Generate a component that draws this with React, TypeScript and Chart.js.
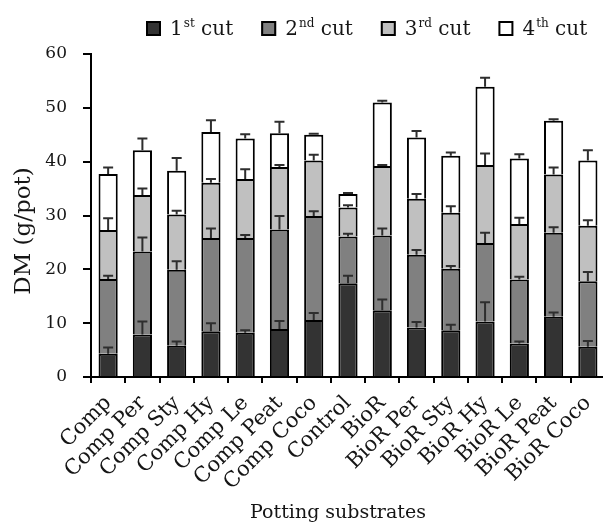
import React, { useEffect, useRef } from "react";
import { Chart, registerables } from "chart.js";

Chart.register(...registerables);

const categories = [
  "Comp", "Comp Per", "Comp Sty", "Comp Hy", "Comp Le", "Comp Peat", "Comp Coco",
  "Control", "BioR", "BioR Per", "BioR Sty", "BioR Hy", "BioR Le", "BioR Peat", "BioR Coco",
];

const cutNumbers = ["1", "2", "3", "4"];
const cutSuffixes = ["st", "nd", "rd", "th"];
const cutWord = " cut";

const cut1 = [4.3, 7.9, 5.8, 8.5, 8.2, 8.9, 10.6, 17.4, 12.4, 9.2, 8.7, 10.3, 6.2, 11.2, 5.6];
const cut2 = [13.9, 15.4, 14.1, 17.3, 17.6, 18.5, 19.3, 8.7, 13.9, 13.5, 11.4, 14.6, 11.9, 15.6, 12.2];
const cut3 = [9.1, 10.5, 10.3, 10.3, 11.0, 11.6, 10.3, 5.4, 12.9, 10.4, 10.4, 14.5, 10.3, 10.8, 10.3];
const cut4 = [10.4, 8.3, 8.1, 9.4, 7.5, 6.3, 4.8, 2.5, 11.8, 11.4, 10.6, 14.5, 12.2, 10.0, 12.1];

const err1 = [1.2, 2.4, 0.8, 1.5, 0.5, 1.5, 1.3, 1.4, 2.0, 1.0, 1.0, 3.6, 0.4, 0.8, 1.1];
const err2 = [0.6, 2.6, 1.6, 1.8, 0.6, 2.5, 0.9, 0.5, 1.3, 0.9, 0.5, 1.9, 0.5, 1.0, 1.7];
const err3 = [2.2, 1.2, 0.7, 0.7, 1.8, 0.4, 1.1, 0.4, 0.2, 0.9, 1.2, 2.1, 1.2, 1.3, 1.0];
const err4 = [1.2, 2.2, 2.4, 2.2, 0.8, 2.1, 0.2, 0.2, 0.3, 1.2, 0.6, 1.7, 0.8, 0.3, 1.9];

const yTicksMin = 0;
const yTicksMax = 60;
const yTickStep = 10;

const xTitle = "Potting substrates";
const yTitle = "DM (g/pot)";

const seriesValues = [cut1, cut2, cut3, cut4];
const seriesErrors = [err1, err2, err3, err4];
const seriesColors = ["#333333", "#808080", "#c0c0c0", "#ffffff"];

const FONT = '"DejaVu Serif", serif';
const TEXT = "#151515";

export default function App() {
  const ref = useRef<HTMLCanvasElement>(null);

  useEffect(() => {
    const canvas = ref.current;
    if (!canvas) return;

    const errorBars = {
      id: "errorBars",
      afterDatasetsDraw(chart: any) {
        const ctx = chart.ctx;
        const yScale = chart.scales.y;
        ctx.save();
        ctx.strokeStyle = "#2e2e2e";
        ctx.lineWidth = 2;
        for (let d = 0; d < seriesValues.length; d++) {
          const meta = chart.getDatasetMeta(d);
          for (let i = 0; i < categories.length; i++) {
            let top = 0;
            for (let k = 0; k <= d; k++) top += seriesValues[k][i];
            const bar = meta.data[i];
            const x = bar.x;
            const y1 = yScale.getPixelForValue(top);
            const y2 = yScale.getPixelForValue(top + seriesErrors[d][i]);
            ctx.beginPath();
            ctx.moveTo(x, y1);
            ctx.lineTo(x, y2);
            ctx.moveTo(x - 5, y2);
            ctx.lineTo(x + 5, y2);
            ctx.stroke();
          }
        }
        ctx.restore();
      },
    };

    const texts = {
      id: "texts",
      afterDraw(chart: any) {
        const ctx = chart.ctx;
        ctx.save();
        // legend
        let x = 146;
        const boxTop = 21;
        const box = 15;
        const base = 35;
        ctx.textAlign = "left";
        ctx.textBaseline = "alphabetic";
        for (let i = 0; i < cutNumbers.length; i++) {
          ctx.fillStyle = seriesColors[i];
          ctx.fillRect(x, boxTop, box, box);
          ctx.strokeStyle = "#000";
          ctx.lineWidth = 2;
          ctx.strokeRect(x + 1, boxTop + 1, box - 2, box - 2);
          let tx = x + box + 9;
          ctx.fillStyle = TEXT;
          ctx.font = `20px ${FONT}`;
          ctx.fillText(cutNumbers[i], tx, base);
          tx += ctx.measureText(cutNumbers[i]).width + 1;
          ctx.font = `12px ${FONT}`;
          ctx.fillText(cutSuffixes[i], tx, base - 8);
          tx += ctx.measureText(cutSuffixes[i]).width;
          ctx.font = `20px ${FONT}`;
          ctx.fillText(cutWord, tx, base);
          tx += ctx.measureText(cutWord).width;
          x = tx + 28;
        }
        // x title
        ctx.font = `19px ${FONT}`;
        ctx.fillStyle = TEXT;
        ctx.textAlign = "center";
        ctx.textBaseline = "alphabetic";
        ctx.fillText(xTitle, 338, 518);
        // y title
        ctx.translate(24, 231);
        ctx.rotate(-Math.PI / 2);
        ctx.font = `23px ${FONT}`;
        ctx.textBaseline = "middle";
        ctx.fillText(yTitle, 0, 0);
        ctx.restore();
      },
    };

    const chart = new Chart(canvas, {
      type: "bar",
      data: {
        labels: categories,
        datasets: seriesValues.map((vals, d) => ({
          label: cutNumbers[d] + cutSuffixes[d] + cutWord,
          data: vals,
          backgroundColor: seriesColors[d],
          borderColor: "#000",
          borderWidth: 2,
          barPercentage: 0.56,
          categoryPercentage: 1,
        })),
      },
      options: {
        responsive: false,
        animation: false,
        devicePixelRatio: 1,
        layout: { padding: { top: 54, right: 10, left: 0, bottom: 0 } },
        plugins: { legend: { display: false }, tooltip: { enabled: false } },
        scales: {
          x: {
            stacked: true,
            grid: { drawOnChartArea: false, drawTicks: true, tickLength: 6, color: "#000", lineWidth: 2, offset: true },
            border: { color: "#000", width: 2 },
            ticks: {
              font: { family: FONT, size: 21 },
              color: TEXT,
              maxRotation: 45,
              minRotation: 45,
              padding: 8,
              autoSkip: false,
            },
            afterFit: (s: any) => {
              s.height = 145;
            },
          },
          y: {
            stacked: true,
            min: yTicksMin,
            max: yTicksMax,
            ticks: { stepSize: yTickStep, font: { family: FONT, size: 17 }, color: TEXT, padding: 16 },
            grid: { drawOnChartArea: false, drawTicks: true, tickLength: 8, color: "#000", lineWidth: 2 },
            border: { color: "#000", width: 2 },
            afterFit: (s: any) => {
              s.width = 91;
            },
          },
        },
      },
      plugins: [errorBars, texts],
    });
    return () => chart.destroy();
  }, []);

  return (
    <div style={{ position: "fixed", left: 0, top: 0, width: 603, height: 522, overflow: "hidden", background: "#fff" }}>
      <canvas ref={ref} width={615} height={522} style={{ display: "block" }} />
    </div>
  );
}
